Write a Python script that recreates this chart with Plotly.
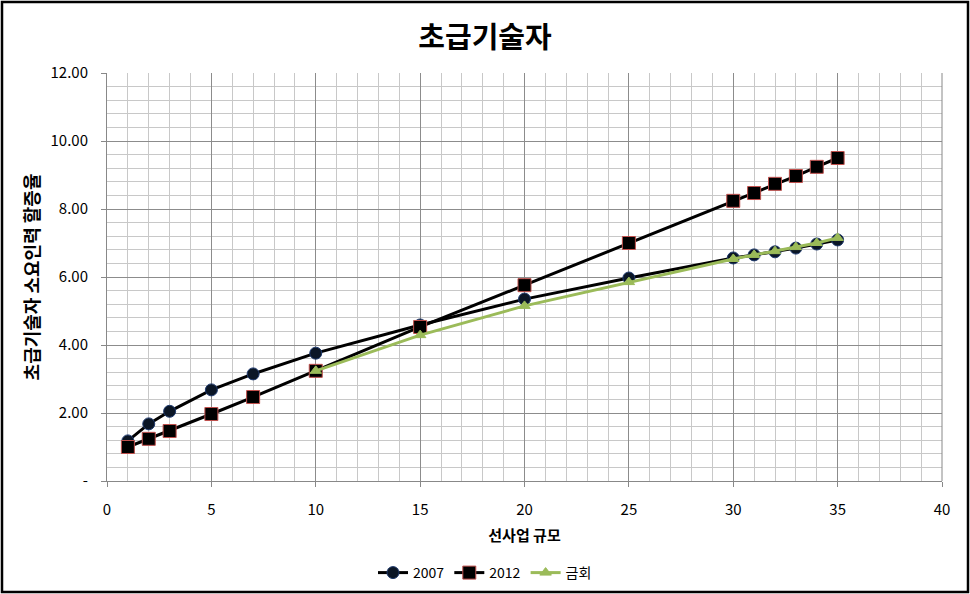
import plotly.graph_objects as go

x_2007 = [1, 2, 3, 5, 7, 10, 15, 20, 25, 30, 31, 32, 33, 34, 35]
y_2007 = [1.18, 1.68, 2.05, 2.68, 3.15, 3.76, 4.59, 5.35, 5.97, 6.56, 6.65, 6.74, 6.85, 6.97, 7.09]
x_2012 = [1, 2, 3, 5, 7, 10, 15, 20, 25, 30, 31, 32, 33, 34, 35]
y_2012 = [1.0, 1.24, 1.47, 1.97, 2.47, 3.24, 4.53, 5.76, 7.0, 8.24, 8.47, 8.74, 8.97, 9.24, 9.5]
x_now = [10, 15, 20, 25, 30, 31, 32, 33, 34, 35]
y_now = [3.24, 4.29, 5.15, 5.85, 6.53, 6.65, 6.76, 6.88, 7.0, 7.15]

y_tickvals = [0, 2, 4, 6, 8, 10, 12]
y_ticktext = ["-", "2.00", "4.00", "6.00", "8.00", "10.00", "12.00"]

FONT = "Noto Sans CJK KR"

fig = go.Figure()
fig.add_trace(go.Scatter(x=x_2007, y=y_2007, name="2007", mode="lines+markers",
                         line=dict(color="black", width=3),
                         marker=dict(symbol="circle", size=12, color="#0b1626",
                                     line=dict(color="#1f3a6e", width=1))))
fig.add_trace(go.Scatter(x=x_2012, y=y_2012, name="2012", mode="lines+markers",
                         line=dict(color="black", width=3),
                         marker=dict(symbol="square", size=13, color="black",
                                     line=dict(color="#c0504d", width=1))))
fig.add_trace(go.Scatter(x=x_now, y=y_now, name="금회", mode="lines+markers",
                         line=dict(color="#9bbb59", width=3),
                         marker=dict(symbol="triangle-up", size=10, color="#9bbb59",
                                     line=dict(color="#9bbb59", width=1))))

W, H = 970, 594
L, R, T, B = 107, 28, 73, 113
pw, ph = W - L - R, H - T - B

fig.update_layout(
    width=W, height=H,
    margin=dict(l=L, r=R, t=T, b=B, autoexpand=False),
    paper_bgcolor="white", plot_bgcolor="white",
    font=dict(family=FONT, color="black", size=14),
    title=dict(text="<b>초급기술자</b>", x=0.5, xanchor="center", y=1 - 38 / H, yanchor="middle",
               font=dict(size=29, family=FONT)),
    legend=dict(orientation="h", x=(485 - L) / pw, xanchor="center", y=-(573 - 481) / ph,
                yanchor="middle", font=dict(size=14), itemwidth=30),
    xaxis=dict(range=[0, 40], dtick=5, tick0=0, showgrid=True, gridcolor="#8c8c8c", gridwidth=1,
               minor=dict(dtick=1, showgrid=True, gridcolor="#c8c8c8", ticks=""),
               ticks="outside", ticklen=5, tickcolor="#888", ticklabelstandoff=10,
               showline=True, linecolor="#888", mirror=False, zeroline=False, automargin=False,
               title=dict(text="<b>선사업 규모</b>", font=dict(size=15), standoff=12),
               tickfont=dict(size=15)),
    yaxis=dict(range=[0, 12], tickvals=y_tickvals, ticktext=y_ticktext, showgrid=True,
               gridcolor="#8c8c8c", gridwidth=1,
               minor=dict(dtick=0.4, tick0=0, showgrid=True, gridcolor="#c8c8c8", ticks=""),
               ticks="outside", ticklen=5, tickcolor="#888", ticklabelstandoff=10,
               showline=True, linecolor="#888", zeroline=False, automargin=False,
               title=dict(text="<b>초급기술자 소요인력 할증율</b>", font=dict(size=18), standoff=6),
               tickfont=dict(size=15)),
    showlegend=True,
)

# right border of plot area
fig.add_shape(type="line", xref="paper", yref="paper", x0=1, x1=1, y0=0, y1=1,
              line=dict(color="#888", width=1))
# outer border of chart
fig.add_shape(type="rect", xref="paper", yref="paper",
              x0=(2 - L) / pw, x1=(W - 2 - L) / pw,
              y0=-(H - 2 - (H - B)) / ph, y1=(H - B - 2) / ph,
              line=dict(color="black", width=2.5))

fig.write_html("out.html")
